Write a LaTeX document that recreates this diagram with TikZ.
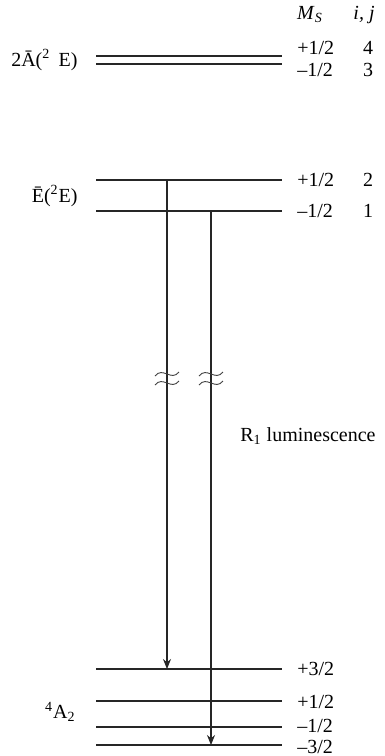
\documentclass[tikz,border=0pt]{standalone}
\usepackage{fontspec}
\setmainfont{Liberation Serif}
\usetikzlibrary{arrows.meta, positioning, calc}

\begin{document}
\begin{tikzpicture}[x=0.5pt, y=-0.5pt, font=\fontsize{10}{12}\selectfont]
    \tikzstyle{level} = [draw=black!85, line width=0.6pt]
    \tikzstyle{arrow} = [black!85, line width=0.6pt, -{Stealth[length=5pt,width=4pt]}]
    \tikzstyle{ms} = [anchor=west, inner sep=0pt]
    \tikzstyle{state} = [anchor=east, inner sep=0pt]
    \tikzstyle{wave} = [black!75, line width=0.45pt]

    \useasboundingbox (0,0) rectangle (385,756);

    % energy levels, with the M_S value beside each (label height t)
    \foreach \n/\y/\t/\m in {lvA/56/48/{+1/2}, lvB/64/70/{--1/2}, lvC/180/180/{+1/2}, lvD/211/211/{--1/2},
                             lvG/669/669/{+3/2}, lvH/701/702/{+1/2}, lvI/727/726/{--1/2}, lvJ/745/747/{--3/2}}{
        \draw[level] (96,\y) coordinate (\n l) -- (282,\y) coordinate (\n r);
        \node[ms] (\n m) at (297,\t) {\m};
    }

    % column heads and i, j
    \node (mshead) at (310,15) {\textit{M}\textsubscript{\textit{S}}};
    \node (ijhead) at (364,15) {\textit{i, j}};
    \node (jA) at (368,48) {4};
    \node (jB) at (368,70) {3};
    \node (jC) at (368,180) {2};
    \node (jD) at (368,211) {1};

    % state labels
    \node[state] (twoA) at (78,60) {2\=A(\textsuperscript{2}\, E)};
    \node[state] (ebar) at (78,196) {\=E(\textsuperscript{2}E)};
    \node[state] (fourA) at (76,712) {\textsuperscript{4}A\textsubscript{2}};

    % transitions
    \coordinate (up) at (167,0);
    \coordinate (dn) at (211,0);
    \draw[arrow] (up |- lvCl) -- (up |- lvGl);
    \draw[arrow] (dn |- lvDl) -- (dn |- lvJl);
    \node[anchor=west, inner sep=0pt] (lum) at (240,436) {R\textsubscript{1} luminescence};

    % break marks
    \foreach \x in {167,211}
        \foreach \y in {374,383}
            \draw[wave] (\x-12,\y+2) .. controls (\x-4,\y-8) and (\x+4,\y+8) .. (\x+12,\y-2);
\end{tikzpicture}
\end{document}
